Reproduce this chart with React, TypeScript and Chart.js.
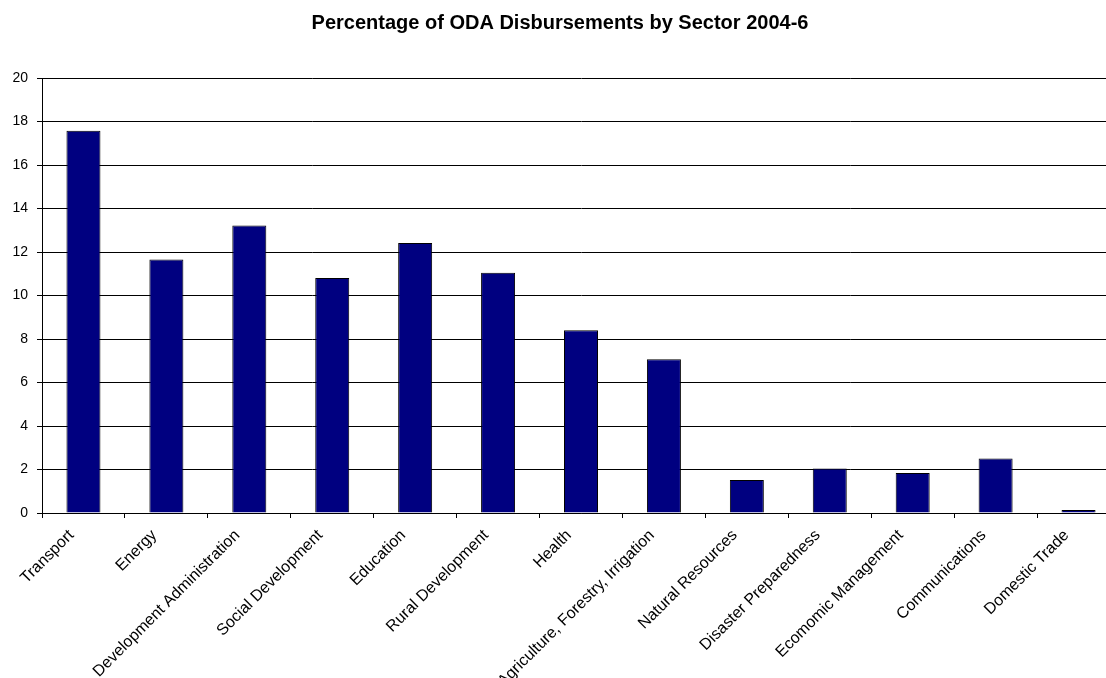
import React, { useEffect, useRef } from "react";
import { Chart, registerables } from "chart.js";

Chart.register(...registerables);

const categories = [
  "Transport",
  "Energy",
  "Development Administration",
  "Social Development",
  "Education",
  "Rural Development",
  "Health",
  "Agriculture, Forestry, Irrigation",
  "Natural Resources",
  "Disaster Preparedness",
  "Ecomomic Management",
  "Communications",
  "Domestic Trade",
];

const percentages = [17.58, 11.65, 13.22, 10.8, 12.41, 11.05, 8.4, 7.07, 1.52, 2.05, 1.84, 2.51, 0.14];

const yTicks = { min: 0, max: 20, step: 2 };

const titleText = "Percentage of ODA Disbursements by Sector 2004-6";

const FONT = "'Liberation Sans', Arial, sans-serif";

export default function App() {
  const ref = useRef<HTMLCanvasElement | null>(null);

  useEffect(() => {
    if (!ref.current) return;
    const chart = new Chart(ref.current, {
      type: "bar",
      data: {
        labels: categories,
        datasets: [
          {
            data: percentages,
            backgroundColor: "#000080",
            borderColor: "#000000",
            borderWidth: 1,
            barPercentage: 0.41,
            categoryPercentage: 1,
          },
        ],
      },
      options: {
        animation: false,
        responsive: false,
        layout: { padding: { left: 0, right: 12, top: 0, bottom: 0 } },
        plugins: {
          legend: { display: false },
          tooltip: { enabled: false },
          title: {
            display: true,
            text: titleText,
            color: "#000",
            font: { family: FONT, size: 20, weight: "bold" },
            padding: { top: 11, bottom: 43 },
          },
        },
        scales: {
          x: {
            offset: true,
            grid: {
              offset: true,
              drawOnChartArea: false,
              drawTicks: true,
              tickLength: 5,
              color: "#000",
              tickColor: "#000",
            },
            border: { display: true, color: "#000", width: 1 },
            ticks: {
              autoSkip: false,
              maxRotation: 45,
              minRotation: 45,
              color: "#000",
              padding: 8,
              labelOffset: -12,
              font: { family: FONT, size: 16 },
            },
            afterFit: (scale: any) => {
              scale.height = 165;
            },
          },
          y: {
            min: yTicks.min,
            max: yTicks.max,
            grid: {
              color: "#000",
              tickColor: "#000",
              tickLength: 5,
              lineWidth: 1,
            },
            border: { display: true, color: "#000", width: 1 },
            ticks: {
              stepSize: yTicks.step,
              color: "#000",
              padding: 9,
              font: { family: FONT, size: 14 },
            },
            afterFit: (scale: any) => {
              scale.width = 42;
            },
          },
        },
      },
    });
    return () => chart.destroy();
  }, []);

  return (
    <div
      style={{
        position: "absolute",
        left: 0,
        top: 0,
        width: 1106,
        height: 678,
        overflow: "hidden",
        background: "#fff",
      }}
    >
      <canvas ref={ref} width={1132} height={678} style={{ display: "block" }} />
    </div>
  );
}
